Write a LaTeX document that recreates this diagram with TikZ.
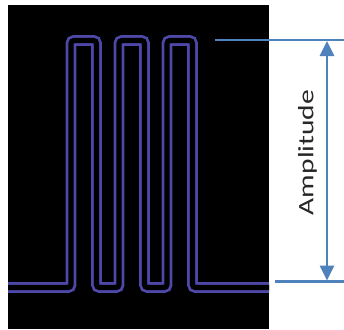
\documentclass[tikz,border=0pt]{standalone}
\usepackage{fontspec}
\setmainfont{Carlito}
\usetikzlibrary{arrows.meta}
\definecolor{wavecol}{RGB}{78,72,168}
\definecolor{dimcol}{RGB}{79,129,189}
\definecolor{txtcol}{RGB}{40,40,40}
\begin{document}
\begin{tikzpicture}[x=1pt,y=-1pt,
  wave/.style={draw=wavecol, line width=2.8pt, double=black, double distance=5.2pt, rounded corners=3pt},
  dimline/.style={draw=dimcol, line width=2.7pt},
  dimarrow/.style={draw=dimcol, line width=2.7pt, {Triangle[length=15pt,width=14pt]}-{Triangle[length=15pt,width=14pt]}}]
\useasboundingbox (0,0) rectangle (344,329);
\fill[black] (8,5) rectangle (269,329);
\draw[wave] (8,287.5) -- (71,287.5) -- (71,40.5) -- (96.5,40.5) -- (96.5,287.5)
  -- (119,287.5) -- (119,40.5) -- (144.5,40.5) -- (144.5,287.5)
  -- (167,287.5) -- (167,40.5) -- (192.5,40.5) -- (192.5,287.5) -- (269,287.5);
\coordinate (topL) at (215,40);
\coordinate (topR) at (344,40);
\coordinate (botL) at (275,281.5);
\coordinate (botR) at (344,281.5);
\coordinate (atop) at (327,41);
\coordinate (abot) at (327,280.5);
\draw[dimline] (topL) -- (topR);
\draw[dimline] (botL) -- (botR);
\draw[dimarrow] (atop) -- (abot);
\node[rotate=90, text=txtcol, font=\fontsize{22}{24}\selectfont, inner sep=0pt] (amp) at (307.5,152.5) {\scalebox{1.34}[1]{Amplitude}};
\end{tikzpicture}
\end{document}
